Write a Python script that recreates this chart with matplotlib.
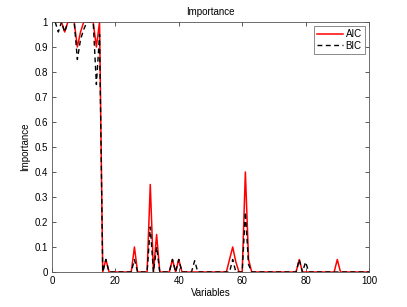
import matplotlib
matplotlib.use("Agg")
import matplotlib.pyplot as plt

# importance per variable (1..100)
variables = list(range(1, 101))
aic = [1.00, 1.00, 1.00, 0.96, 1.00, 1.00, 1.00, 0.90, 0.96, 1.00,
       1.00, 1.00, 1.00, 0.90, 1.00, 0.00, 0.05, 0.00, 0.00, 0.00,
       0.00, 0.00, 0.00, 0.00, 0.00, 0.10, 0.00, 0.00, 0.00, 0.00,
       0.35, 0.00, 0.15, 0.00, 0.00, 0.00, 0.00, 0.05, 0.00, 0.05,
       0.00, 0.00, 0.00, 0.00, 0.00, 0.00, 0.00, 0.00, 0.00, 0.00,
       0.00, 0.00, 0.00, 0.00, 0.00, 0.05, 0.10, 0.04, 0.00, 0.00,
       0.40, 0.05, 0.00, 0.00, 0.00, 0.00, 0.00, 0.00, 0.00, 0.00,
       0.00, 0.00, 0.00, 0.00, 0.00, 0.00, 0.00, 0.05, 0.00, 0.00,
       0.00, 0.00, 0.00, 0.00, 0.00, 0.00, 0.00, 0.00, 0.00, 0.05,
       0.00, 0.00, 0.00, 0.00, 0.00, 0.00, 0.00, 0.00, 0.00, 0.00]
bic = [1.00, 0.96, 1.00, 0.96, 1.00, 1.00, 1.00, 0.85, 0.93, 0.97,
       1.00, 1.00, 1.00, 0.75, 0.95, 0.00, 0.05, 0.00, 0.00, 0.00,
       0.00, 0.00, 0.00, 0.00, 0.00, 0.05, 0.00, 0.00, 0.00, 0.00,
       0.18, 0.00, 0.10, 0.00, 0.00, 0.00, 0.00, 0.05, 0.00, 0.05,
       0.00, 0.00, 0.00, 0.00, 0.045, 0.00, 0.00, 0.00, 0.00, 0.00,
       0.00, 0.00, 0.00, 0.00, 0.00, 0.00, 0.05, 0.00, 0.00, 0.00,
       0.24, 0.03, 0.00, 0.00, 0.00, 0.00, 0.00, 0.00, 0.00, 0.00,
       0.00, 0.00, 0.00, 0.00, 0.00, 0.00, 0.00, 0.05, 0.00, 0.04,
       0.00, 0.00, 0.00, 0.00, 0.00, 0.00, 0.00, 0.00, 0.00, 0.00,
       0.00, 0.00, 0.00, 0.00, 0.00, 0.00, 0.00, 0.00, 0.00, 0.00]
xticks = [0, 20, 40, 60, 80, 100]
yticks = [0, 0.1, 0.2, 0.3, 0.4, 0.5, 0.6, 0.7, 0.8, 0.9, 1]
ytick_labels = ["0", "0.1", "0.2", "0.3", "0.4", "0.5", "0.6", "0.7", "0.8", "0.9", "1"]

plt.rcParams["font.family"] = ["Liberation Sans", "DejaVu Sans"]
plt.rcParams["font.size"] = 7

fig = plt.figure(figsize=(4.07, 3.07), dpi=100)
ax = fig.add_axes([52 / 407, 35 / 307, 317 / 407, 250 / 307])

ax.plot(variables, aic, color="red", lw=1.1, label="AIC")
ax.plot(variables, bic, color="black", lw=1.0, ls=(0, (3.5, 2.5)), label="BIC")

ax.set_xlim(0, 100)
ax.set_ylim(0, 1)
ax.set_xticks(xticks)
ax.set_yticks(yticks)
ax.set_yticklabels(ytick_labels)
ax.tick_params(direction="in", length=3, width=0.6, top=True, right=True,
               colors="#404040", labelcolor="black", pad=3)
for s in ax.spines.values():
    s.set_color("#555555")
    s.set_linewidth(0.6)

ax.set_title("Importance", fontsize=7, pad=5)
ax.set_xlabel("Variables", fontsize=7, labelpad=1)
ax.set_ylabel("Importance", fontsize=7, labelpad=3)

leg = ax.legend(loc="upper right", fontsize=7, frameon=True, fancybox=False,
                handlelength=2.6, borderpad=0.3, labelspacing=0.15,
                handletextpad=0.3, borderaxespad=0.45)
leg.get_frame().set_edgecolor("#555555")
leg.get_frame().set_linewidth(0.6)

fig.savefig("out.png", dpi=100)
